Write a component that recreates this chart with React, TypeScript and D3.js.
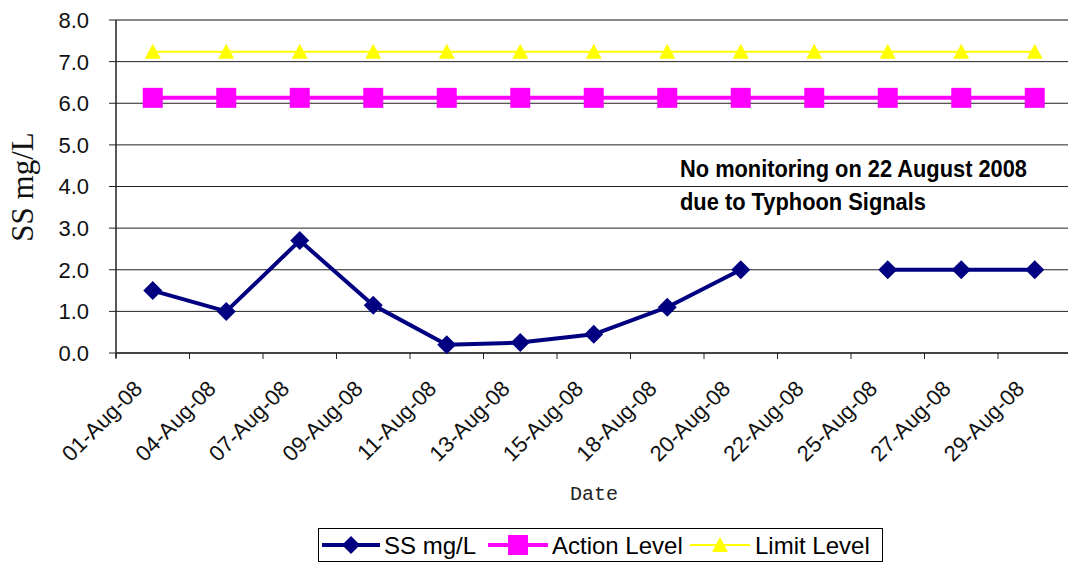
import React from "react";
import * as d3 from "d3";

const categories = ["01-Aug-08","04-Aug-08","07-Aug-08","09-Aug-08","11-Aug-08","13-Aug-08","15-Aug-08","18-Aug-08","20-Aug-08","22-Aug-08","25-Aug-08","27-Aug-08","29-Aug-08"];
const ssValues: (number | null)[] = [1.5, 1.0, 2.7, 1.15, 0.2, 0.25, 0.45, 1.1, 2.0, null, 2.0, 2.0, 2.0];
const actionValues = [6.13,6.13,6.13,6.13,6.13,6.13,6.13,6.13,6.13,6.13,6.13,6.13,6.13];
const limitValues = [7.24,7.24,7.24,7.24,7.24,7.24,7.24,7.24,7.24,7.24,7.24,7.24,7.24];
const yTicks = [0,1,2,3,4,5,6,7,8];

const W = 1068, H = 563;
const left = 116, top = 20, bottom = 353;
const band = 73.5;

export default function App() {
  const x = d3.scaleBand<string>().domain(categories).range([left, left + band * categories.length]).padding(0);
  const y = d3.scaleLinear().domain([0, 8]).range([bottom, top]);
  const cx = (c: string) => (x(c) as number) + x.bandwidth() / 2;

  const line = d3.line<number | null>()
    .defined(d => d !== null)
    .x((_, i) => cx(categories[i]))
    .y(d => y(d as number));

  const diamond = (px: number, py: number, r: number) => `M${px},${py - r}L${px + r},${py}L${px},${py + r}L${px - r},${py}Z`;
  const tri = (px: number, py: number, w: number, h: number) => `M${px},${py - h / 2 - 1}L${px + w / 2},${py + h / 2}L${px - w / 2},${py + h / 2}Z`;

  const font = "Arial, 'Liberation Sans', sans-serif";

  return (
    <svg width={W} height={H} style={{ position: "absolute", left: 0, top: 0, background: "#fff" }}>
      {/* gridlines */}
      {yTicks.map(t => (
        <line key={"g" + t} x1={left} x2={W} y1={y(t)} y2={y(t)}
          stroke={t === 8 ? "#888" : "#222"} strokeWidth={t === 8 ? 2 : 1} />
      ))}
      {/* y axis */}
      <line x1={left} x2={left} y1={top} y2={bottom + 5} stroke="#222" strokeWidth={1.5} />
      <line x1={left} x2={W} y1={bottom} y2={bottom} stroke="#444" strokeWidth={2} />
      {yTicks.map(t => (
        <g key={"yt" + t}>
          <line x1={left - 7} x2={left} y1={y(t)} y2={y(t)} stroke="#222" />
          <text x={89} y={y(t)} dy="0.36em" textAnchor="end" fontFamily={font} fontSize={22} fill="#111">{t.toFixed(1)}</text>
        </g>
      ))}
      {/* x ticks */}
      {categories.map(c => (
        <line key={"xt" + c} x1={x(c)} x2={x(c)} y1={bottom} y2={bottom + 6} stroke="#222" />
      ))}
      {categories.map(c => {
        const px = cx(c) - 9, py = bottom + 37;
        return (
          <text key={"xl" + c} x={px} y={py} transform={`rotate(-45,${px},${py})`} textAnchor="end"
            fontFamily={font} fontSize={22} fill="#111">{c}</text>
        );
      })}
      {/* axis titles */}
      <text transform={`translate(33,187) rotate(-90)`} textAnchor="middle" fontFamily="'Liberation Serif', 'Times New Roman', serif" fontSize={31} fill="#111">SS mg/L</text>
      <text x={594} y={500} textAnchor="middle" fontFamily="'Liberation Mono', monospace" fontSize={20} fill="#222">Date</text>

      {/* limit */}
      <path d={line(limitValues) || ""} fill="none" stroke="#FFFF00" strokeWidth={2} />
      {limitValues.map((v, i) => (
        <path key={"lm" + i} d={tri(cx(categories[i]), y(v), 16, 14)} fill="#FFFF00" />
      ))}
      {/* action */}
      <path d={line(actionValues) || ""} fill="none" stroke="#FF00FF" strokeWidth={4} />
      {actionValues.map((v, i) => (
        <rect key={"am" + i} x={cx(categories[i]) - 10} y={y(v) - 10} width={20} height={20} fill="#FF00FF" />
      ))}
      {/* SS */}
      <path d={line(ssValues) || ""} fill="none" stroke="#000080" strokeWidth={4} strokeLinejoin="round" />
      {ssValues.map((v, i) => v === null ? null : (
        <path key={"sm" + i} d={diamond(cx(categories[i]), y(v), 9.5)} fill="#000080" />
      ))}

      {/* annotation */}
      <text fontFamily="'Liberation Sans Narrow', 'Arial Narrow', Arial, sans-serif" fontWeight="bold" fontSize={24} fill="#000">
        <tspan x={680} y={177} textLength={347} lengthAdjust="spacingAndGlyphs">No monitoring on 22 August 2008</tspan>
        <tspan x={680} y={210} textLength={246} lengthAdjust="spacingAndGlyphs">due to Typhoon Signals</tspan>
      </text>

      {/* legend */}
      <rect x={318.5} y={528.5} width={564} height={33} fill="#fff" stroke="#000" strokeWidth={1} />
      <line x1={322} x2={380} y1={545} y2={545} stroke="#000080" strokeWidth={4} />
      <path d={diamond(351, 545, 9)} fill="#000080" />
      <text x={384} y={545} dy="0.36em" fontFamily={font} fontSize={24} fill="#000">SS mg/L</text>
      <line x1={488} x2={548} y1={545} y2={545} stroke="#FF00FF" strokeWidth={4} />
      <rect x={508} y={535} width={20} height={20} fill="#FF00FF" />
      <text x={552} y={545} dy="0.36em" fontFamily={font} fontSize={24} fill="#000">Action Level</text>
      <line x1={690} x2={750} y1={545} y2={545} stroke="#FFFF00" strokeWidth={2} />
      <path d={tri(720, 545, 16, 14)} fill="#FFFF00" />
      <text x={755} y={545} dy="0.36em" fontFamily={font} fontSize={24} fill="#000">Limit Level</text>
    </svg>
  );
}
